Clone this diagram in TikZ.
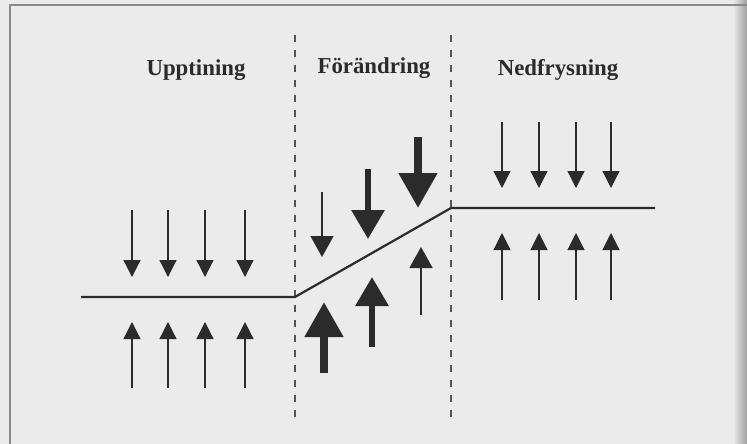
\documentclass[tikz,border=0pt]{standalone}
\usepackage{fontspec}
\setmainfont{Liberation Serif}
\usetikzlibrary{arrows.meta}
\definecolor{paper}{HTML}{EBEBEB}
\definecolor{ink}{HTML}{2B2B2B}
\begin{document}
\begin{tikzpicture}[x=1pt, y=-1pt,
    title/.style={font=\fontsize{22.8}{26}\selectfont\bfseries, text=ink, anchor=base},
    divider/.style={draw=ink!80, line width=1.1pt, dash pattern=on 7pt off 8pt},
    level/.style={draw=ink, line width=2.2pt},
    smallforce/.style={draw=ink, line width=1.2pt, -{Triangle[width=17pt, length=17pt]}},
    lightforce/.style={draw=ink, line width=1.5pt, -{Triangle[width=23pt, length=21pt]}},
    midforce/.style={draw=ink, line width=6pt, -{Triangle[width=32pt, length=29pt]}},
    heavyforce/.style={draw=ink, line width=8pt, -{Triangle[width=37pt, length=35pt]}}]
    \fill[paper] (0,0) rectangle (747,444);
    \useasboundingbox (0,0) rectangle (747,444);
    \shade[left color=paper, right color=ink!45] (733,0) rectangle (747,444);
    \draw[ink!55, line width=1.5pt] (10,444) -- (10,5) -- (747,5);

    \node[title] (unfreeze) at (196,76) {Upptining};
    \node[title] (change) at (374,74) {Förändring};
    \node[title] (refreeze) at (558,76) {Nedfrysning};

    \coordinate (d1top) at (295,35);  \coordinate (d1bot) at (295,420);
    \coordinate (d2top) at (451,35);  \coordinate (d2bot) at (451,420);
    \draw[divider] (d1top) -- (d1bot);
    \draw[divider] (d2top) -- (d2bot);

    % the level: low, rising, high
    \coordinate (lowstart) at (81,297);
    \coordinate (lowend) at (295,297);
    \coordinate (highstart) at (451,208);
    \coordinate (highend) at (655,208);
    \draw[level] (lowstart) -- (lowend) -- (highstart) -- (highend);

    \foreach \x [count=\i] in {132,168,205,245} {
        \coordinate (ua\i) at (\x,210); \coordinate (ub\i) at (\x,277);
        \coordinate (uc\i) at (\x,388); \coordinate (ud\i) at (\x,322);
        \draw[smallforce] (ua\i) -- (ub\i);
        \draw[smallforce] (uc\i) -- (ud\i);
    }
    \foreach \x [count=\i] in {502,539,576,611} {
        \coordinate (na\i) at (\x,122); \coordinate (nb\i) at (\x,188);
        \coordinate (nc\i) at (\x,300); \coordinate (nd\i) at (\x,233);
        \draw[smallforce] (na\i) -- (nb\i);
        \draw[smallforce] (nc\i) -- (nd\i);
    }

    % forces during the change
    \coordinate (fa1) at (322,192); \coordinate (fa2) at (322,257);
    \coordinate (fb1) at (368,169); \coordinate (fb2) at (368,239);
    \coordinate (fc1) at (418,137); \coordinate (fc2) at (418,208);
    \coordinate (ga1) at (421,315); \coordinate (ga2) at (421,247);
    \coordinate (gb1) at (372,347); \coordinate (gb2) at (372,277);
    \coordinate (gc1) at (324,373); \coordinate (gc2) at (324,302);
    \draw[lightforce] (fa1) -- (fa2);
    \draw[midforce] (fb1) -- (fb2);
    \draw[heavyforce] (fc1) -- (fc2);
    \draw[lightforce] (ga1) -- (ga2);
    \draw[midforce] (gb1) -- (gb2);
    \draw[heavyforce] (gc1) -- (gc2);
\end{tikzpicture}
\end{document}
